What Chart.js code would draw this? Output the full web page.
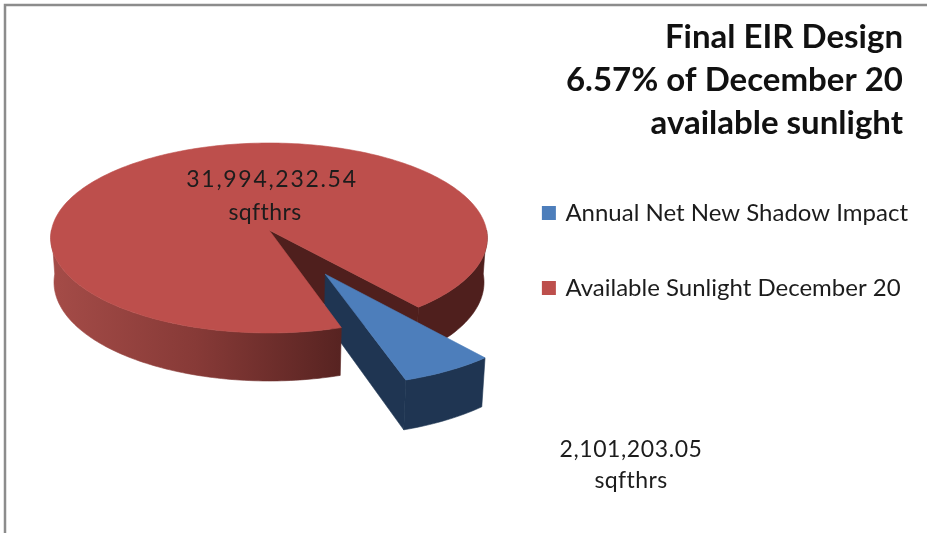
<!DOCTYPE html>
<html>
<head>
<meta charset="utf-8">
<script src="https://cdn.jsdelivr.net/npm/chart.js@4"></script>
<style>
  body { margin: 0; background: #fff; }
  canvas { display: block; }
</style>
</head>
<body>
<canvas id="pieChart" width="927" height="533"></canvas>
<script>
const titleLines = ['Final EIR Design', '6.57% of December 20', 'available sunlight'];
const categories = ['Annual Net New Shadow Impact', 'Available Sunlight December 20'];
const sqftHours = [2101203.05, 31994232.54];
const unitLabel = 'sqfthrs';
const sliceColors = ['#4d7ebb', '#bd4f4c'];
const wallColors = ['#1f3552', '#4f1f1d'];

// the pie is tilted, so the arcs are run through a small perspective
const cx = 269, cy = 230, rx = 217.5, ry = 94.3, tilt = 0.084, depth = 44;
const explode = 0.515;

function project(u, v, z) {
  const s = 1 / (1 - tilt * v);
  const shrink = 1 - 0.015 * z;
  return [cx + rx * u * s * shrink, cy + ry * v * s + z * depth * s];
}

function sliceOrigin(arc, i) {
  if (i !== 0) return [0, 0];
  const mid = (arc.startAngle + arc.endAngle) / 2;
  return [Math.cos(mid) * explode, Math.sin(mid) * explode];
}

function rimPoints(o, a0, a1, z) {
  const pts = [];
  const steps = Math.max(4, Math.ceil(Math.abs(a1 - a0) / 0.02));
  for (let i = 0; i <= steps; i++) {
    const a = a0 + (a1 - a0) * i / steps;
    pts.push(project(o[0] + Math.cos(a), o[1] + Math.sin(a), z));
  }
  return pts;
}

function fillPath(ctx, pts, color) {
  ctx.beginPath();
  pts.forEach((p, i) => i ? ctx.lineTo(p[0], p[1]) : ctx.moveTo(p[0], p[1]));
  ctx.closePath();
  ctx.fillStyle = color;
  ctx.strokeStyle = color;
  ctx.lineWidth = 0.6;
  ctx.fill();
  ctx.stroke();
}

function outerWall(ctx, o, a0, a1, color) {
  fillPath(ctx, rimPoints(o, a0, a1, 0).concat(rimPoints(o, a1, a0, 1)), color);
}

function radialWall(ctx, o, a, color) {
  const rim0 = project(o[0] + Math.cos(a), o[1] + Math.sin(a), 0);
  const rim1 = project(o[0] + Math.cos(a), o[1] + Math.sin(a), 1);
  fillPath(ctx, [project(o[0], o[1], 0), rim0, rim1, project(o[0], o[1], 1)], color);
}

function topFace(ctx, o, arc, color) {
  fillPath(ctx, [project(o[0], o[1], 0)].concat(rimPoints(o, arc.startAngle, arc.endAngle, 0)), color);
}

function drawLabel(ctx, text, x, y, spacing) {
  ctx.letterSpacing = spacing + 'px';
  ctx.fillText(text, x, y);
}

const pie3d = {
  id: 'pie3d',
  beforeDatasetsDraw(chart) {
    const ctx = chart.ctx;
    const [blue, red] = chart.getDatasetMeta(0).data;
    const blueO = sliceOrigin(blue, 0), redO = sliceOrigin(red, 1);

    // back parts of the red slice
    outerWall(ctx, redO, 2 * Math.PI, red.endAngle, wallColors[1]);
    radialWall(ctx, redO, red.endAngle, wallColors[1]);

    // exploded blue slice walls
    outerWall(ctx, blueO, blue.startAngle, blue.endAngle, wallColors[0]);
    radialWall(ctx, blueO, blue.endAngle, wallColors[0]);

    // red front wall sits in front of the blue one
    const grad = ctx.createLinearGradient(50, 0, 342, 0);
    grad.addColorStop(0, '#a54c48');
    grad.addColorStop(0.5, '#873a37');
    grad.addColorStop(1, '#572321');
    outerWall(ctx, redO, red.startAngle, Math.PI, grad);

    topFace(ctx, blueO, blue, sliceColors[0]);
    topFace(ctx, redO, red, sliceColors[1]);
    return false;
  },
  afterLayout(chart) {
    // the legend's clip box has to move along with it
    chart.legend.left += 15;
    chart.legend.right += 15;
    chart.legend.top += 150;
    chart.legend.bottom += 150;
  },
  afterDraw(chart) {
    const ctx = chart.ctx;
    ctx.save();
    // frame of the original picture
    ctx.strokeStyle = '#8c8c8c';
    ctx.lineWidth = 2.5;
    ctx.beginPath();
    ctx.moveTo(5, 533);
    ctx.lineTo(5, 5);
    ctx.lineTo(927, 5);
    ctx.stroke();

    // value labels
    const fmt = v => v.toLocaleString('en-US', { minimumFractionDigits: 2, maximumFractionDigits: 2 });
    ctx.font = '23px Lato';
    ctx.fillStyle = '#1c1c1c';
    ctx.textAlign = 'center';
    ctx.textBaseline = 'middle';
    drawLabel(ctx, fmt(sqftHours[1]), 272, 180, 1.7);
    drawLabel(ctx, unitLabel, 265, 213, 0.4);
    drawLabel(ctx, fmt(sqftHours[0]), 631, 450, 0.6);
    drawLabel(ctx, unitLabel, 631, 481, 0.4);
    ctx.restore();
  }
};

new Chart(document.getElementById('pieChart'), {
  type: 'pie',
  data: {
    labels: categories,
    datasets: [{ data: sqftHours, backgroundColor: sliceColors, borderWidth: 0 }]
  },
  options: {
    responsive: false,
    animation: false,
    rotation: 140,
    layout: { padding: { right: 24 } },
    plugins: {
      tooltip: { enabled: false },
      title: {
        display: true,
        text: titleLines,
        align: 'end',
        color: '#111',
        font: { family: 'Lato', size: 33, weight: 'bold', lineHeight: 1.3 },
        padding: { top: 16, bottom: 12 }
      },
      legend: {
        position: 'right',
        align: 'start',
        labels: {
          boxWidth: 9,
          boxHeight: 9,
          padding: 51,
          color: '#1c1c1c',
          font: { family: 'Lato', size: 24 },
          // stroked box: 14px square but a tighter gap before the text
          generateLabels(chart) {
            return Chart.overrides.pie.plugins.legend.labels.generateLabels(chart).map(item => {
              item.strokeStyle = item.fillStyle;
              item.lineWidth = 5;
              return item;
            });
          }
        }
      }
    }
  },
  plugins: [pie3d]
});
</script>
</body>
</html>
